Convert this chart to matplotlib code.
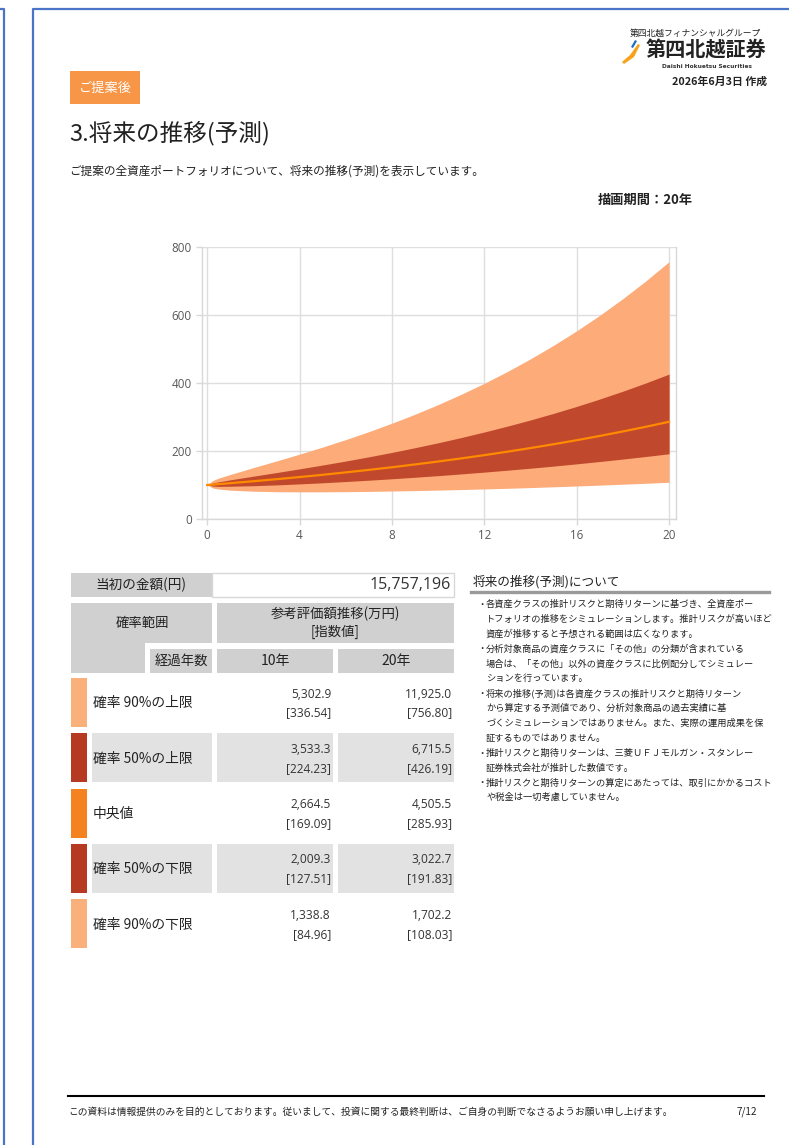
import matplotlib
matplotlib.use("Agg")
import matplotlib.pyplot as plt
from matplotlib.patches import Rectangle, Polygon
from matplotlib.lines import Line2D

plt.rcParams['font.family'] = ['Noto Sans CJK JP', 'DejaVu Sans']

# ---------------- data ----------------
years = [0, 0.25, 0.5, 1, 2, 3, 4, 5, 6, 7, 8, 9, 10,
         11, 12, 13, 14, 15, 16, 17, 18, 19, 20]
upper90 = [100, 113.5, 120.5, 131.0, 151.1, 170.7, 190.7, 211.6, 233.6, 256.9, 281.8, 308.2, 336.5,
           366.8, 399.2, 433.9, 471.1, 510.9, 553.5, 599.2, 648.2, 700.6, 756.8]
upper50 = [100, 105.9, 109.5, 115.2, 126.0, 136.6, 147.5, 158.8, 170.5, 182.9, 195.9, 209.7, 224.2,
           239.6, 255.9, 273.1, 291.4, 310.7, 331.2, 352.9, 375.9, 400.3, 426.2]
median = [100, 101.3, 102.7, 105.4, 111.1, 117.1, 123.4, 130.0, 137.1, 144.5, 152.2, 160.5, 169.1,
          178.2, 187.8, 198.0, 208.7, 219.9, 231.8, 244.3, 257.5, 271.3, 285.9]
lower50 = [100, 96.8, 96.0, 96.4, 97.9, 100.3, 103.2, 106.5, 110.2, 114.1, 118.3, 122.8, 127.5,
           132.6, 137.9, 143.5, 149.4, 155.6, 162.2, 169.1, 176.3, 183.9, 191.8]
lower90 = [100, 91.0, 88.0, 84.8, 81.7, 80.3, 79.8, 79.9, 80.4, 81.2, 82.3, 83.5, 85.0,
           86.6, 88.4, 90.3, 92.4, 94.7, 97.1, 99.6, 102.3, 105.1, 108.0]
xticks = [0, 4, 8, 12, 16, 20]
yticks = [0, 200, 400, 600, 800]

initial_amount = "15,757,196"
row_labels = ["確率 90%の上限", "確率 50%の上限", "中央値", "確率 50%の下限", "確率 90%の下限"]
val10 = ["5,302.9", "3,533.3", "2,664.5", "2,009.3", "1,338.8"]
idx10 = ["[336.54]", "[224.23]", "[169.09]", "[127.51]", "[84.96]"]
val20 = ["11,925.0", "6,715.5", "4,505.5", "3,022.7", "1,702.2"]
idx20 = ["[756.80]", "[426.19]", "[285.93]", "[191.83]", "[108.03]"]
col_headers = ["10年", "20年"]

notes = [
    ("・", "各資産クラスの推計リスクと期待リターンに基づき、全資産ポー"),
    ("", "トフォリオの推移をシミュレーションします。推計リスクが高いほど"),
    ("", "資産が推移すると予想される範囲は広くなります。"),
    ("・", "分析対象商品の資産クラスに「その他」の分類が含まれている"),
    ("", "場合は、「その他」以外の資産クラスに比例配分してシミュレー"),
    ("", "ションを行っています。"),
    ("・", "将来の推移(予測)は各資産クラスの推計リスクと期待リターン"),
    ("", "から算定する予測値であり、分析対象商品の過去実績に基"),
    ("", "づくシミュレーションではありません。また、実際の運用成果を保"),
    ("", "証するものではありません。"),
    ("・", "推計リスクと期待リターンは、三菱ＵＦＪモルガン・スタンレー"),
    ("", "証券株式会社が推計した数値です。"),
    ("・", "推計リスクと期待リターンの算定にあたっては、取引にかかるコスト"),
    ("", "や税金は一切考慮していません。"),
]

# ---------------- colours ----------------
C_LIGHT = "#FDAB79"
C_DARK = "#C0492D"
C_MED = "#FF8A00"
SW_LIGHT = "#F9B07A"
SW_DARK = "#B63A22"
SW_MED = "#F58220"
swatches = [SW_LIGHT, SW_DARK, SW_MED, SW_DARK, SW_LIGHT]
GRAY_HDR = "#D0D0D0"
GRAY_ROW = "#E2E2E2"
BLUE = "#4A74C8"

W, H = 789, 1145
fig = plt.figure(figsize=(W / 100, H / 100), dpi=100)
fig.patch.set_facecolor("white")


def fx(x):
    return x / W


def fy(y):
    return 1 - y / H


def rect(x0, y0, x1, y1, **kw):
    fig.add_artist(Rectangle((fx(x0), fy(y1)), (x1 - x0) / W, (y1 - y0) / H,
                             transform=fig.transFigure, **kw))


def txt(x, y, s, **kw):
    kw.setdefault("va", "center")
    fig.text(fx(x), fy(y), s, **kw)


def line(xs, ys, **kw):
    fig.add_artist(Line2D([fx(v) for v in xs], [fy(v) for v in ys],
                          transform=fig.transFigure, **kw))


# ---------------- page borders ----------------
line([0, 4, 4], [9, 9, H + 5], color=BLUE, lw=1.6)
line([33, 33, W + 5], [H + 5, 9, 9], color=BLUE, lw=1.6)

# ---------------- header ----------------
rect(70, 71, 140, 104, facecolor="#F79646", edgecolor="none")
txt(105, 88, "ご提案後", ha="center", color="white", fontsize=9.5)

txt(695, 33, "第四北越フィナンシャルグループ", ha="center", fontsize=6.3, color="#222222")
# logo swoosh
fig.add_artist(Polygon([(fx(622), fy(62)), (fx(630), fy(55)), (fx(638), fy(44)),
                        (fx(640), fy(45)), (fx(634), fy(57)), (fx(624), fy(64))],
                       closed=True, transform=fig.transFigure,
                       facecolor="#F6A31B", edgecolor="none"))
fig.add_artist(Polygon([(fx(631), fy(47)), (fx(635), fy(40)), (fx(637), fy(41)),
                        (fx(633), fy(48))],
                       closed=True, transform=fig.transFigure,
                       facecolor="#1F6FC5", edgecolor="none"))
txt(706, 50, "第四北越証券", ha="center", fontsize=14.5, fontweight="bold", color="#222222")
txt(707, 66, "Daishi Hokuetsu Securities", ha="center", fontsize=4.2,
    fontweight="bold", color="#333333", family="DejaVu Sans Condensed")
txt(767, 82, "2026年6月3日 作成", ha="right", fontsize=7.8, fontweight="bold", color="#222222")

txt(69, 133, "3.将来の推移(予測)", ha="left", fontsize=17, color="#222222")
txt(69, 171, "ご提案の全資産ポートフォリオについて、将来の推移(予測)を表示しています。",
    ha="left", fontsize=8.4, color="#222222")
txt(693, 200, "描画期間：20年", ha="right", fontsize=9.5, fontweight="bold", color="#222222")

# ---------------- chart ----------------
ax = fig.add_axes([fx(201.7), fy(519), (676 - 201.7) / W, (519 - 247) / H])
ax.fill_between(years, lower90, upper90, color=C_LIGHT, lw=0, zorder=2)
ax.fill_between(years, lower50, upper50, color=C_DARK, lw=0, zorder=3)
ax.plot(years, median, color=C_MED, lw=1.6, zorder=4)
ax.set_xlim(-0.24, 20.3)
ax.set_ylim(0, 800)
ax.set_xticks(xticks)
ax.set_yticks(yticks)
ax.grid(True, color="#DEDEDE", lw=1.0, zorder=0)
ax.set_axisbelow(True)
for sp in ax.spines.values():
    sp.set_color("#D8D8D8")
    sp.set_linewidth(1.0)
ax.spines["top"].set_visible(False)
ax.tick_params(axis="both", colors="#D8D8D8", labelcolor="#595959",
               labelsize=8.4, length=4, width=1.0, pad=3)
for lab in ax.get_xticklabels() + ax.get_yticklabels():
    lab.set_family(["Open Sans", "DejaVu Sans"])

# ---------------- table ----------------
rect(71, 573, 212, 597, facecolor=GRAY_HDR, edgecolor="none")
txt(141, 585, "当初の金額(円)", ha="center", fontsize=9.8, color="#222222")
rect(212, 573, 454, 597, facecolor="white", edgecolor="#D8D8D8", lw=1)
txt(451, 585, initial_amount, ha="right", fontsize=11.5, color="#333333",
    family=["Open Sans", "DejaVu Sans"])

rect(71, 603, 212, 673, facecolor=GRAY_HDR, edgecolor="none")
rect(145, 643, 212, 673, facecolor="white", edgecolor="none")
rect(150, 649, 212, 673, facecolor=GRAY_HDR, edgecolor="none")
txt(142, 623, "確率範囲", ha="center", fontsize=9.6, color="#222222")
txt(181, 661, "経過年数", ha="center", fontsize=9.6, color="#222222")

rect(217, 603, 454, 643, facecolor=GRAY_HDR, edgecolor="none")
txt(335, 614, "参考評価額推移(万円)", ha="center", fontsize=9.6, color="#222222")
txt(335, 632, "[指数値]", ha="center", fontsize=9.6, color="#222222")
rect(217, 649, 333, 673, facecolor=GRAY_HDR, edgecolor="none")
rect(338, 649, 454, 673, facecolor=GRAY_HDR, edgecolor="none")
txt(275, 661, col_headers[0], ha="center", fontsize=10, color="#222222")
txt(396, 661, col_headers[1], ha="center", fontsize=10, color="#222222")

row_step = 55.3
for i, lab in enumerate(row_labels):
    top = 678 + i * row_step
    bot = top + 49
    rect(71, top, 87, bot, facecolor=swatches[i], edgecolor="none")
    if i % 2 == 1:
        rect(92, top, 212, bot, facecolor=GRAY_ROW, edgecolor="none")
        rect(217, top, 333, bot, facecolor=GRAY_ROW, edgecolor="none")
        rect(338, top, 454, bot, facecolor=GRAY_ROW, edgecolor="none")
    mid = (top + bot) / 2
    txt(93, mid + 1, lab, ha="left", fontsize=9.9, color="#222222")
    txt(331, top + 16, val10[i], ha="right", fontsize=8.6, color="#333333",
        family=["Open Sans", "DejaVu Sans"])
    txt(331, top + 35, idx10[i], ha="right", fontsize=8.6, color="#333333",
        family=["Open Sans", "DejaVu Sans"])
    txt(452, top + 16, val20[i], ha="right", fontsize=8.6, color="#333333",
        family=["Open Sans", "DejaVu Sans"])
    txt(452, top + 35, idx20[i], ha="right", fontsize=8.6, color="#333333",
        family=["Open Sans", "DejaVu Sans"])

# ---------------- notes ----------------
txt(473, 582, "将来の推移(予測)について", ha="left", fontsize=9.1, color="#222222")
line([471, 769], [592, 592], color="#9A9A9A", lw=2.4)
for j, (bullet, s) in enumerate(notes):
    y = 604 + j * 14.9
    if bullet:
        txt(477, y, bullet, ha="left", fontsize=6.65, color="#222222")
    txt(486, y, s, ha="left", fontsize=6.65, color="#222222")

# ---------------- footer ----------------
line([68, 764], [1096, 1096], color="black", lw=1.5)
txt(68, 1112, "この資料は情報提供のみを目的としております。従いまして、投資に関する最終判断は、ご自身の判断でなさるようお願い申し上げます。",
    ha="left", fontsize=7.0, color="#222222")
txt(757, 1112, "7/12", ha="right", fontsize=7.2, color="#222222")

fig.savefig("out.png", dpi=100, facecolor="white")
